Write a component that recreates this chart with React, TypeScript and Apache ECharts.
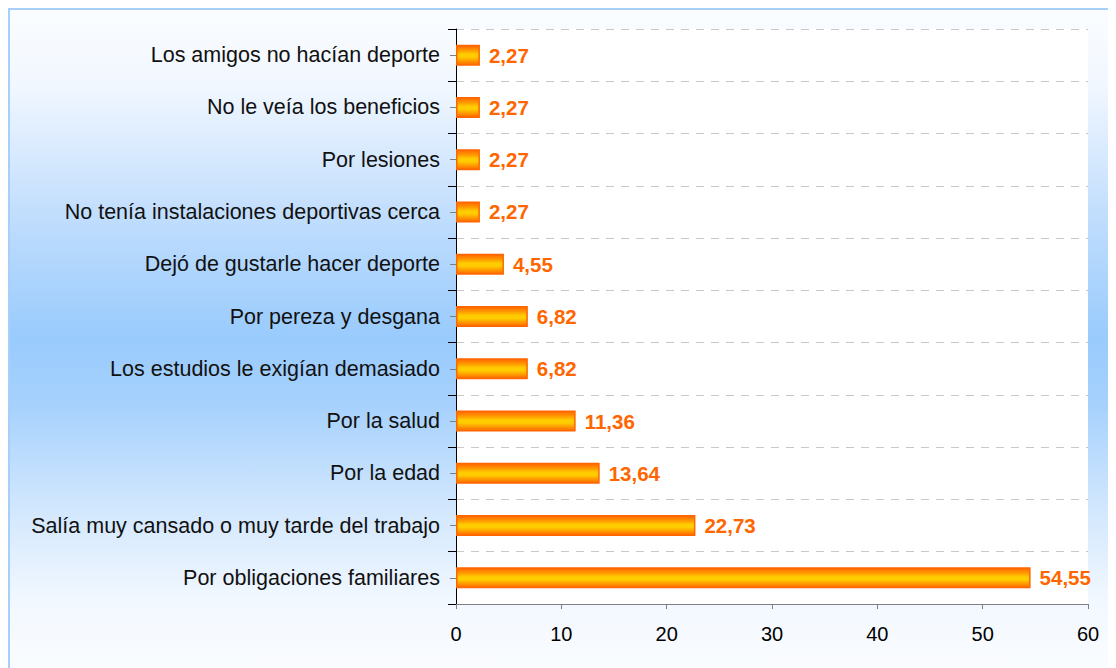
import React, { useEffect, useRef } from "react";
import * as echarts from "echarts";

const categories = [
  "Los amigos no hacían deporte",
  "No le veía los beneficios",
  "Por lesiones",
  "No tenía instalaciones deportivas cerca",
  "Dejó de gustarle hacer deporte",
  "Por pereza y desgana",
  "Los estudios le exigían demasiado",
  "Por la salud",
  "Por la edad",
  "Salía muy cansado o muy tarde del trabajo",
  "Por obligaciones familiares",
];
const values = [2.27, 2.27, 2.27, 2.27, 4.55, 6.82, 6.82, 11.36, 13.64, 22.73, 54.55];
const xTicks = [0, 10, 20, 30, 40, 50, 60];

const FONT = "'Liberation Sans', Arial, sans-serif";

export default function App() {
  const ref = useRef<HTMLDivElement>(null);
  useEffect(() => {
    if (!ref.current) return;
    const chart = echarts.init(ref.current, null, { renderer: "svg" });
    chart.setOption({
      animation: false,
      backgroundColor: {
        type: "linear",
        x: 0,
        y: 0,
        x2: 0,
        y2: 1,
        colorStops: [
          { offset: 0, color: "#fbfdff" },
          { offset: 0.12, color: "#f1f7ff" },
          { offset: 0.3, color: "#c4dffd" },
          { offset: 0.5, color: "#99cbfd" },
          { offset: 0.6, color: "#a6d1fd" },
          { offset: 0.76, color: "#d2e7fd" },
          { offset: 0.9, color: "#f2f8ff" },
          { offset: 1, color: "#fafcff" },
        ],
      },
      graphic: [
        {
          type: "line",
          shape: { x1: 1, y1: 0, x2: 1, y2: 700 },
          style: { stroke: "#a6cffa", lineWidth: 2 },
        },
        {
          type: "line",
          shape: { x1: 0, y1: 1, x2: 1200, y2: 1 },
          style: { stroke: "#a6cffa", lineWidth: 2 },
        },
      ],
      grid: {
        left: 448,
        top: 21,
        right: 28,
        bottom: 64,
        show: true,
        backgroundColor: "#ffffff",
        borderWidth: 0,
      },
      xAxis: {
        type: "value",
        min: xTicks[0],
        max: xTicks[xTicks.length - 1],
        interval: 10,
        axisLine: { show: true, lineStyle: { color: "#808080", width: 1 } },
        axisTick: { show: true, length: 5, lineStyle: { color: "#808080" } },
        splitLine: { show: false },
        axisLabel: { fontFamily: FONT, fontSize: 20, color: "#000", margin: 20 },
      },
      yAxis: [
        {
          type: "category",
          data: categories,
          inverse: true,
          axisLine: { show: true, lineStyle: { color: "#000", width: 1 } },
          axisTick: { show: true, length: 8, interval: 0, lineStyle: { color: "#000" } },
          splitLine: {
            show: true,
            interval: 0,
            lineStyle: { color: "#c8c8c8", type: [8, 7], width: 1 },
          },
          axisLabel: {
            fontFamily: FONT,
            fontSize: 21.5,
            color: "#111",
            margin: 16,
            interval: 0,
          },
        },
        {
          type: "category",
          data: categories,
          inverse: true,
          position: "left",
          axisLine: { show: false },
          axisTick: {
            show: true,
            alignWithLabel: true,
            length: 6,
            interval: 0,
            lineStyle: { color: "#808080" },
          },
          axisLabel: { show: false },
          splitLine: { show: false },
        },
      ],
      series: [
        {
          type: "bar",
          data: values,
          yAxisIndex: 0,
          barWidth: 21,
          itemStyle: {
            color: {
              type: "linear",
              x: 0,
              y: 0,
              x2: 0,
              y2: 1,
              colorStops: [
                { offset: 0, color: "#ff6600" },
                { offset: 0.25, color: "#ff9900" },
                { offset: 0.45, color: "#ffcc00" },
                { offset: 0.6, color: "#ffcc00" },
                { offset: 0.8, color: "#ff9900" },
                { offset: 1, color: "#ff6600" },
              ],
            },
            borderColor: "#ff6600",
            borderWidth: 1.5,
          },
          label: {
            show: true,
            position: "right",
            distance: 9,
            fontFamily: FONT,
            fontSize: 20.5,
            fontWeight: "bold",
            color: "#ff6600",
            formatter: (p: any) => Number(p.value).toFixed(2).replace(".", ","),
          },
        },
      ],
    });
    return () => chart.dispose();
  }, []);
  return <div ref={ref} style={{ width: 1108, height: 660 }} />;
}
